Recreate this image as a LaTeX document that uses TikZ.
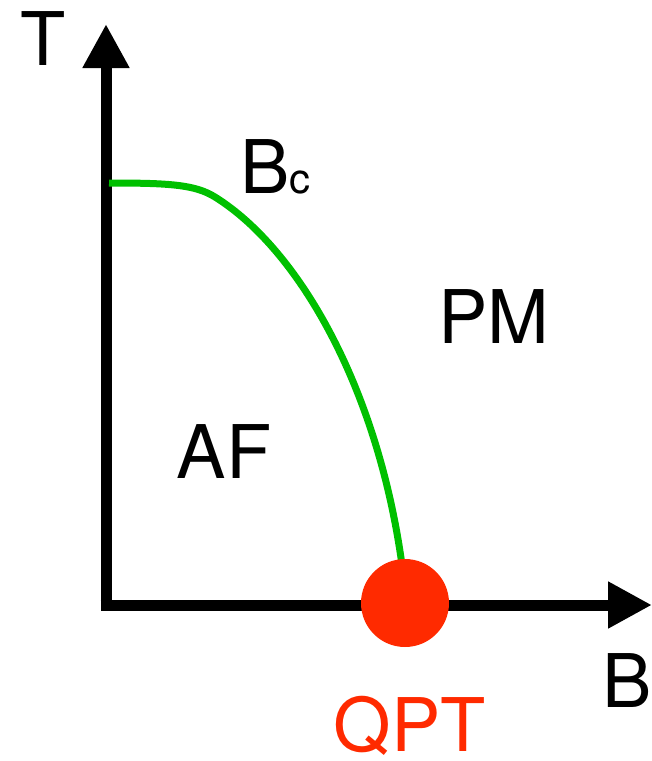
\documentclass[tikz,border=0pt]{standalone}
\usepackage{fontspec}
\setmainfont{TeX Gyre Heros}
\usetikzlibrary{arrows.meta}
\definecolor{qptred}{RGB}{255,42,0}
\definecolor{bcgreen}{RGB}{0,192,0}
\begin{document}
\begin{tikzpicture}[x=1pt,y=-1pt,
  axis/.style={line width=11pt,-{Triangle[length=44pt,width=44pt]}},
  lbl/.style={inner sep=0pt,anchor=base,font=\fontsize{74}{80}\selectfont}]
\useasboundingbox (0,0) rectangle (652,761);
\coordinate (ybot) at (106,610.5);
\coordinate (ytip) at (106,24);
\coordinate (xstart) at (100.5,605);
\coordinate (xtip) at (652,605);
\coordinate (c0) at (109,183);
\coordinate (c1) at (215,197);
\coordinate (c2) at (402,565);
\draw[axis] (ybot) -- (ytip);
\draw[axis] (xstart) -- (xtip);
\draw[bcgreen,line width=7pt] (c0) .. controls (170,183) and (195,184.6) .. (c1)
  .. controls (300,250) and (378,390) .. (c2);
\fill[qptred] (405,603) circle (44);
\node[lbl] (T) at (43.5,65) {T};
\node[lbl] (B) at (627,707) {B};
\node[lbl,text=qptred] (qpt) at (410,751) {QPT};
\node[lbl] (pm) at (494,343) {PM};
\node[lbl] (af) at (224,478) {AF};
\node[lbl,anchor=base west] (bc) at (240,193) {B\fontsize{42}{46}\selectfont c};
\end{tikzpicture}
\end{document}
